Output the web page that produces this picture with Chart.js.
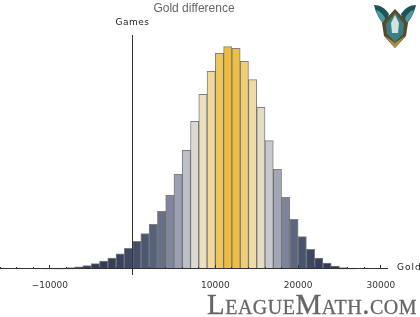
<!DOCTYPE html>
<html>
<head>
<meta charset="utf-8">
<style>
  html, body { margin: 0; padding: 0; background: #fff; overflow: hidden; }
  #wrap { position: relative; width: 420px; height: 317px; }
  #logo {
    position: absolute; left: 207px; top: 288px;
    font: 29px/32px "Liberation Serif", serif; font-variant: small-caps; letter-spacing: 0.5px;
    color: #666; white-space: nowrap; -webkit-text-stroke: 0.3px #666;
  }
  #badge { position: absolute; left: 372px; top: 0; filter: blur(0.4px); }
</style>
<script src="https://cdn.jsdelivr.net/npm/chart.js@4/dist/chart.umd.min.js"></script>
</head>
<body>
<div id="wrap">
  <canvas id="chart" width="420" height="317"></canvas>
  <svg id="badge" width="46" height="50" viewBox="0 0 46 50">
    <path d="M2 5 C8 5 13 8 17 14 L14 26 C8 21 4 14 2 5 Z" fill="#1f5358"/>
    <path d="M44 5 C38 5 33 8 29 14 L32 26 C38 21 42 14 44 5 Z" fill="#1f5358"/>
    <path d="M4 10 C8 11 11 14 13 18 L12 23 C8 20 5 15 4 10 Z M42 10 C38 11 35 14 33 18 L34 23 C38 20 41 15 42 10 Z" fill="#4b9aa0"/>
    <path d="M10 23 L23 9 L36 23 L34 36 L23 48 L12 36 Z" fill="#5a4a2a"/>
    <path d="M14 24 L23 13 L32 24 L31 34 L23 42 L15 34 Z" fill="#3a7f86"/>
    <path d="M23 15 L27 23 L26 33 L20 33 L19 23 Z" fill="#d6e2e0"/>
    <path d="M13 36 L23 43 L33 36 L23 48 Z" fill="#a88c4a"/>
  </svg>
  <div id="logo">LeagueMath.com</div>
</div>
<script>
// left edge of each 1000 gold bin, heights
const binStart = [-11000, -10000, -9000, -8000, -7000, -6000, -5000, -4000, -3000, -2000, -1000,
  0, 1000, 2000, 3000, 4000, 5000, 6000, 7000, 8000, 9000, 10000, 11000, 12000, 13000, 14000,
  15000, 16000, 17000, 18000, 19000, 20000, 21000, 22000, 23000, 24000, 25000, 26000];
const games = [0.4, 1, 1, 1.6, 2.3, 3.6, 5.6, 8, 11, 15.3, 21,
  28, 35.6, 45, 58, 74, 95, 119, 148, 175, 198, 216, 222.6, 221, 208, 189.6,
  162, 128.6, 100, 72, 50, 32.6, 20, 11, 6, 3, 1.6, 1];
const tickLabels = { '-10000': '\u221210000', '10000': '10000', '20000': '20000', '30000': '30000' };

// colour by bar height, dark blue through grey to gold
const colorStops = [
  [0, '#2e3650'], [0.1, '#3f4964'], [0.2, '#55607a'], [0.26, '#667086'], [0.33, '#7e859c'],
  [0.43, '#9ba1b3'], [0.53, '#bbbfc9'], [0.66, '#dbd9d0'], [0.78, '#e9dfc0'], [0.89, '#f2d999'],
  [0.97, '#f0c65a'], [1, '#eebc3c']
];
function rgb(hex) {
  return [1, 3, 5].map(i => parseInt(hex.substr(i, 2), 16));
}
function barColor(v) {
  const t = v / Math.max(...games);
  for (let i = 1; i < colorStops.length; i++) {
    if (t <= colorStops[i][0]) {
      const a = colorStops[i - 1], b = colorStops[i];
      const f = (t - a[0]) / (b[0] - a[0]);
      const ca = rgb(a[1]), cb = rgb(b[1]);
      return 'rgb(' + ca.map((c, k) => Math.round(c + (cb[k] - c) * f)).join(',') + ')';
    }
  }
  return colorStops[colorStops.length - 1][1];
}

const axisText = {
  id: 'axisText',
  afterDraw(chart) {
    const ctx = chart.ctx, x = chart.scales.x, y = chart.scales.y;
    const base = Math.round(y.getPixelForValue(0)), zero = Math.floor(x.getPixelForValue(0)) + 0.5;
    ctx.save();
    ctx.strokeStyle = '#333';
    ctx.lineWidth = 1;
    ctx.beginPath();
    // axes
    ctx.moveTo(chart.chartArea.left, base - 0.5);
    ctx.lineTo(chart.chartArea.right, base - 0.5);
    ctx.moveTo(zero, chart.chartArea.top);
    ctx.lineTo(zero, base + 6);
    // small ticks point up into the plot
    x.ticks.forEach(t => {
      const px = Math.floor(x.getPixelForValue(t.value)) + 0.5;
      ctx.moveTo(px, base);
      ctx.lineTo(px, base - (t.value % 10000 === 0 ? 4 : 2));
    });
    ctx.stroke();
    ctx.fillStyle = '#222';
    ctx.font = '9px "DejaVu Sans"';
    ctx.letterSpacing = '0.5px';
    ctx.textBaseline = 'middle';
    ctx.fillText('Games', zero - 17, chart.chartArea.top - 12);
    ctx.letterSpacing = '1px';
    ctx.fillText('Gold', chart.chartArea.right + 9, base - 1);
    ctx.restore();
  }
};

new Chart(document.getElementById('chart'), {
  type: 'bar',
  data: {
    datasets: [{
      data: binStart.map((b, i) => ({ x: b + 500, y: games[i] })),
      backgroundColor: games.map(barColor),
      borderColor: 'rgba(60,60,60,0.65)',
      borderWidth: 1,
      borderSkipped: 'bottom',
      barPercentage: 1,
      categoryPercentage: 1
    }]
  },
  plugins: [axisText],
  options: {
    responsive: false,
    animation: false,
    layout: { padding: { left: 0, right: 32, top: 0, bottom: 23 } },
    plugins: {
      legend: { display: false },
      tooltip: { enabled: false },
      title: {
        display: true,
        text: 'Gold difference',
        color: '#666',
        font: { family: 'Liberation Sans', size: 12, weight: 'normal' },
        padding: { top: 1, bottom: 19.6 }
      }
    },
    scales: {
      x: {
        type: 'linear',
        offset: false,
        min: -16020,
        max: 30860,
        grid: { display: false, offset: false },
        border: { display: false },
        afterBuildTicks(scale) {
          const ticks = [];
          for (let v = -16000; v <= 30000; v += 2000) ticks.push({ value: v });
          scale.ticks = ticks;
        },
        afterFit(scale) {
          scale.paddingLeft = 0;
          scale.paddingRight = 0;
        },
        ticks: {
          autoSkip: false,
          maxRotation: 0,
          padding: 3,
          color: '#333',
          font: { family: 'DejaVu Sans', size: 9 },
          callback: v => tickLabels[v] || ''
        }
      },
      y: {
        display: false,
        min: 0,
        max: 234.3
      }
    }
  }
});
</script>
</body>
</html>
